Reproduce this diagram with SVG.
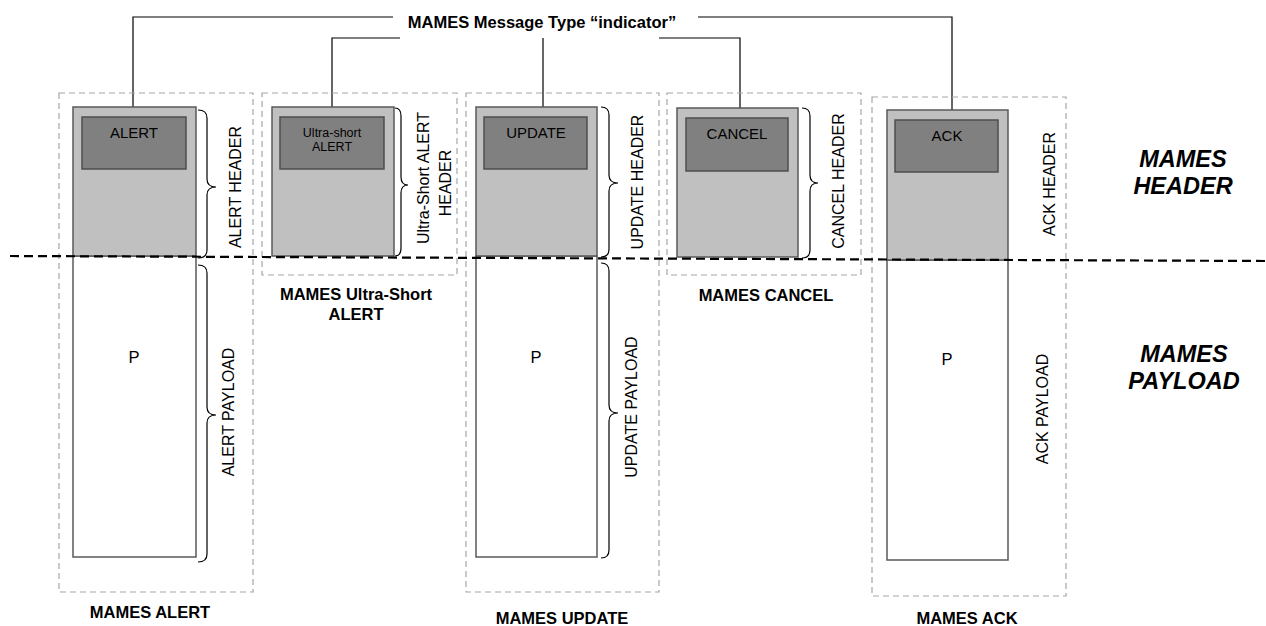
<svg xmlns="http://www.w3.org/2000/svg" width="1266" height="626" viewBox="0 0 1266 626">
<style>
  text { font-family: "Liberation Sans", Arial, sans-serif; fill: #000; }
  .frame { fill: none; stroke: #a6a6a6; stroke-width: 1.2; stroke-dasharray: 6,4; }
  .hdr { fill: #c0c0c0; stroke: #595959; stroke-width: 1.5; }
  .pay { fill: #fff; stroke: #595959; stroke-width: 1.5; }
  .ind { fill: #808080; stroke: #4d4d4d; stroke-width: 1.5; }
  .lbl { font-size: 15px; text-anchor: middle; }
  .p { font-size: 16.5px; text-anchor: middle; }
  .small { font-size: 12.5px; text-anchor: middle; }
  .vert { font-size: 16px; text-anchor: middle; dominant-baseline: central; }
  .cap { font-size: 16.5px; font-weight: bold; text-anchor: middle; }
  .big { font-size: 23.5px; font-weight: bold; font-style: italic; text-anchor: middle; }
  .brace { fill: none; stroke: #000; stroke-width: 1.2; }
  .conn { fill: none; stroke: #000; stroke-width: 1.2; }
  .sep { fill: none; stroke: #000; stroke-width: 2.2; stroke-dasharray: 9,5; }
</style>

<g id="connectors">
  <polyline class="conn" points="393,17 133,17 133,117"/>
  <polyline class="conn" points="400,38 332,38 332,117"/>
  <polyline class="conn" points="543,38 543,117"/>
  <polyline class="conn" points="659,38 740,38 740,118"/>
  <polyline class="conn" points="698,17 952,17 952,117"/>
</g>

<g id="title">
  <text class="cap" x="542" y="28">MAMES Message Type “indicator”</text>
</g>

<g id="mames-alert">
  <rect class="frame" x="59" y="93" width="194" height="499"/>
  <rect class="pay" x="73" y="256" width="123" height="301"/>
  <rect class="hdr" x="73" y="107" width="123" height="149"/>
  <rect class="ind" x="82" y="117" width="104" height="52"/>
  <text class="lbl" x="134" y="138">ALERT</text>
  <text class="p" x="134" y="363">P</text>
  <path class="brace" d="M198,110 Q207,110 207,118 L207,179 Q207,187 216,187 Q207,187 207,195 L207,250 Q207,258 198,258"/>
  <text class="vert" x="235" y="187" transform="rotate(-90 235 187)">ALERT HEADER</text>
  <path class="brace" d="M198,265 Q207,265 207,273 L207,407 Q207,415 216,415 Q207,415 207,423 L207,554 Q207,562 198,562"/>
  <text class="vert" x="228" y="412" transform="rotate(-90 228 412)">ALERT PAYLOAD</text>
  <text class="cap" x="150" y="618">MAMES ALERT</text>
</g>

<g id="mames-ultra-short-alert">
  <rect class="frame" x="262" y="93" width="195" height="182"/>
  <rect class="hdr" x="272" y="107" width="122" height="149"/>
  <rect class="ind" x="280" y="117" width="104" height="52"/>
  <text class="small" x="332" y="137">Ultra-short</text>
  <text class="small" x="332" y="151">ALERT</text>
  <path class="brace" d="M395,108 Q401,108 401,116 L401,177 Q401,185 408,185 Q401,185 401,193 L401,248 Q401,256 395,256"/>
  <text class="vert" x="423" y="178" transform="rotate(-90 423 178)">Ultra-Short ALERT</text>
  <text class="vert" x="445" y="183" transform="rotate(-90 445 183)">HEADER</text>
  <text class="cap" x="356" y="300">MAMES Ultra-Short</text>
  <text class="cap" x="356" y="320">ALERT</text>
</g>

<g id="mames-update">
  <rect class="frame" x="466" y="93" width="193" height="499"/>
  <rect class="pay" x="476" y="256" width="121" height="301"/>
  <rect class="hdr" x="476" y="107" width="121" height="149"/>
  <rect class="ind" x="484" y="117" width="103" height="52"/>
  <text class="lbl" x="536" y="138">UPDATE</text>
  <text class="p" x="536" y="363">P</text>
  <path class="brace" d="M601,107 Q609,107 609,115 L609,175 Q609,183 618,183 Q609,183 609,191 L609,249 Q609,257 601,257"/>
  <text class="vert" x="637" y="182" transform="rotate(-90 637 182)">UPDATE HEADER</text>
  <path class="brace" d="M601,263 Q609,263 609,271 L609,405 Q609,413 618,413 Q609,413 609,421 L609,550 Q609,558 601,558"/>
  <text class="vert" x="631" y="407" transform="rotate(-90 631 407)">UPDATE PAYLOAD</text>
  <text class="cap" x="562" y="624">MAMES UPDATE</text>
</g>

<g id="mames-cancel">
  <rect class="frame" x="667" y="93" width="194" height="182"/>
  <rect class="hdr" x="677" y="108" width="121" height="149"/>
  <rect class="ind" x="686" y="118" width="102" height="53"/>
  <text class="lbl" x="737" y="139">CANCEL</text>
  <path class="brace" d="M802,108 Q810,108 810,116 L810,175 Q810,183 818,183 Q810,183 810,191 L810,250 Q810,258 802,258"/>
  <text class="vert" x="838" y="181" transform="rotate(-90 838 181)">CANCEL HEADER</text>
  <text class="cap" x="766" y="301">MAMES CANCEL</text>
</g>

<g id="mames-ack">
  <rect class="frame" x="872" y="97" width="194" height="499"/>
  <rect class="pay" x="887" y="260" width="121" height="300"/>
  <rect class="hdr" x="887" y="110" width="121" height="150"/>
  <rect class="ind" x="895" y="120" width="103" height="52"/>
  <text class="lbl" x="947" y="141">ACK</text>
  <text class="p" x="947" y="365">P</text>
  <text class="vert" x="1049" y="184" transform="rotate(-90 1049 184)">ACK HEADER</text>
  <text class="vert" x="1042" y="409" transform="rotate(-90 1042 409)">ACK PAYLOAD</text>
  <text class="cap" x="967" y="624">MAMES ACK</text>
</g>

<g id="separator">
  <line class="sep" x1="10" y1="256" x2="1266" y2="261"/>
</g>

<g id="section-labels">
  <text class="big" x="1183" y="167">MAMES</text>
  <text class="big" x="1183" y="194">HEADER</text>
  <text class="big" x="1184" y="362">MAMES</text>
  <text class="big" x="1184" y="389">PAYLOAD</text>
</g>
</svg>
